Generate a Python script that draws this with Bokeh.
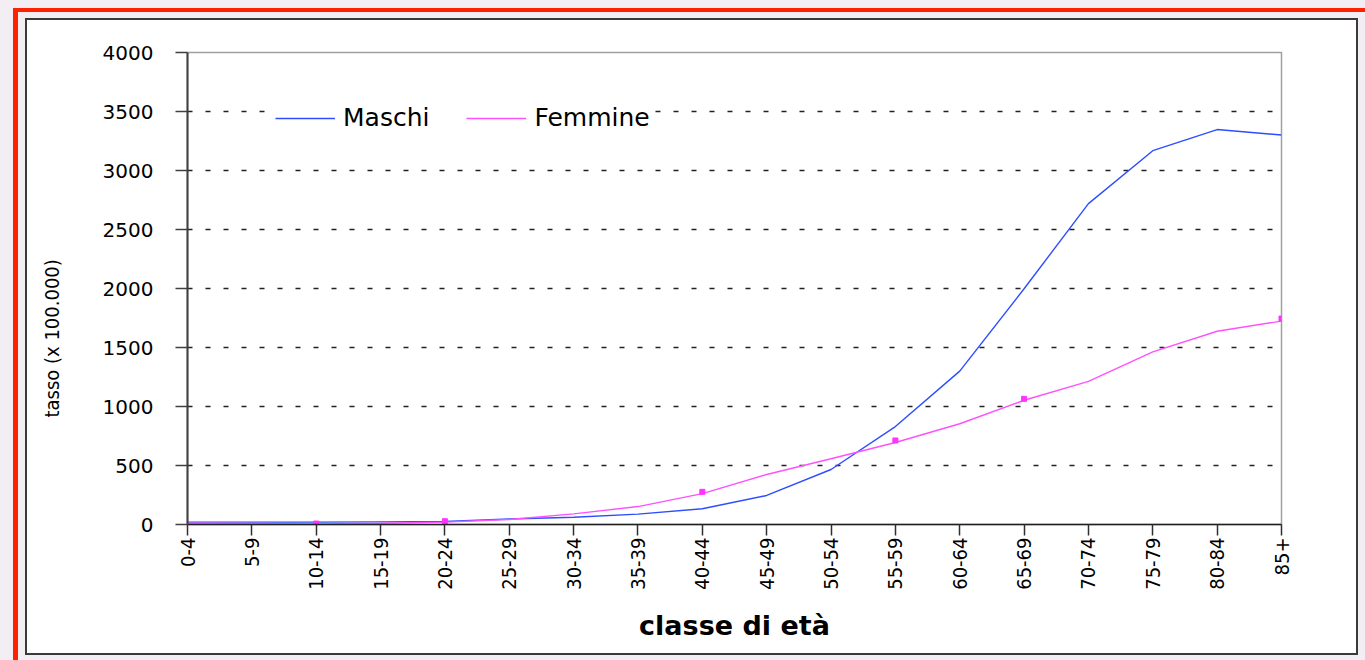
import math
from bokeh.plotting import figure
from bokeh.models import FixedTicker, Range1d, Title
from bokeh.embed import file_html
from bokeh.resources import INLINE

# ---- data -------------------------------------------------------------
categories = ["0-4", "5-9", "10-14", "15-19", "20-24", "25-29", "30-34", "35-39",
              "40-44", "45-49", "50-54", "55-59", "60-64", "65-69", "70-74",
              "75-79", "80-84", "85+"]
maschi = [20, 20, 20, 22, 25, 46, 62, 88, 133, 246, 466, 830, 1300, 1998, 2719, 3168, 3347, 3301]
femmine = [10, 8, 5, 10, 20, 42, 90, 152, 262, 424, 557, 695, 854, 1053, 1213, 1463, 1638, 1724]
femmine_pts_idx = [2, 4, 8, 11, 13, 17]
femmine_pts_val = [8, 28, 277, 712, 1065, 1745]
y_ticks = [0, 500, 1000, 1500, 2000, 2500, 3000, 3500, 4000]

# ---- figure -----------------------------------------------------------
W, H = 1365, 660
x_idx = list(range(len(categories)))

p = figure(width=W, height=H, output_backend="svg", toolbar_location=None,
           x_range=Range1d(0, len(categories) - 1), y_range=Range1d(0, 4000),
           min_border_left=187, min_border_right=W - 1281,
           min_border_top=52, min_border_bottom=H - 524)

# page decoration (red border, framed white panel) painted behind the canvas
def bar(color, x, y, w, h):
    return f"linear-gradient({color},{color}) {x}px {y}px / {w}px {h}px no-repeat"

layers = [
    bar("#3a3a3a", 25, 18, 1333, 2),     # panel frame top
    bar("#3a3a3a", 25, 653, 1333, 2),    # panel frame bottom
    bar("#3a3a3a", 25, 18, 2, 637),      # panel frame left
    bar("#3a3a3a", 1356, 18, 2, 637),    # panel frame right
    bar("#ffffff", 25, 18, 1333, 637),   # white panel
    bar("#FF2200", 13, 8, 1352, 4),      # red top
    bar("#FF2200", 13, 8, 5, 652),       # red left
    "#f3eef3",
]
p.styles = {"background": ", ".join(layers)}

p.border_fill_color = None
p.background_fill_color = "white"
p.outline_line_color = "#a0a0a0"
p.outline_line_width = 1.5

# lines
p.line(x_idx, maschi, line_color="#2D4DFF", line_width=1.4, legend_label="Maschi")
p.line(x_idx, femmine, line_color="#FF50FF", line_width=1.4, legend_label="Femmine")
p.scatter(femmine_pts_idx, femmine_pts_val, marker="square", size=5,
          fill_color="#FF33FF", line_color="#FF33FF")

# grid
p.xgrid.grid_line_color = None
p.ygrid.ticker = FixedTicker(ticks=y_ticks)
p.ygrid.grid_line_color = "#222222"
p.ygrid.grid_line_dash = "5 13"
p.ygrid.grid_line_width = 1.3

# y axis
p.yaxis.ticker = FixedTicker(ticks=y_ticks)
p.yaxis.axis_line_color = "#404040"
p.yaxis.axis_line_width = 2
p.yaxis.major_tick_line_color = "#404040"
p.yaxis.major_tick_line_width = 1.5
p.yaxis.major_tick_out = 12
p.yaxis.major_tick_in = 0
p.yaxis.minor_tick_line_color = None
p.yaxis.major_label_standoff = 22
p.yaxis.major_label_text_font = "DejaVu Sans"
p.yaxis.major_label_text_font_size = "20px"
p.yaxis.major_label_text_color = "black"

# x axis
p.xaxis.ticker = FixedTicker(ticks=x_idx)
p.xaxis.major_label_overrides = {i: c for i, c in enumerate(categories)}
p.xaxis.major_label_orientation = math.pi / 2
p.xaxis.axis_line_color = "#202020"
p.xaxis.axis_line_width = 1.5
p.xaxis.major_tick_line_color = "#303030"
p.xaxis.major_tick_line_width = 1.5
p.xaxis.major_tick_out = 11
p.xaxis.major_tick_in = 0
p.xaxis.minor_tick_line_color = None
p.xaxis.major_label_standoff = 2
p.xaxis.major_label_text_font = "DejaVu Sans Condensed"
p.xaxis.major_label_text_font_size = "20px"
p.xaxis.major_label_text_color = "black"
p.xaxis.axis_label = "classe di età"
p.xaxis.axis_label_standoff = 17
p.xaxis.axis_label_text_font = "DejaVu Sans"
p.xaxis.axis_label_text_font_style = "bold"
p.xaxis.axis_label_text_font_size = "27px"
p.xaxis.axis_label_text_color = "black"

# y axis title (left side panel)
ytitle = Title(text="tasso (x 100.000)", align="left", offset=107,
               text_font="DejaVu Sans Condensed", text_font_size="20px",
               text_font_style="normal", text_color="black", standoff=71)
p.add_layout(ytitle, "left")

# legend
lg = p.legend[0]
lg.location = (88, 392)
lg.orientation = "horizontal"
lg.border_line_color = None
lg.background_fill_color = "white"
lg.background_fill_alpha = 1
lg.padding = 10
lg.margin = 0
lg.spacing = 37
lg.glyph_width = 60
lg.glyph_height = 24
lg.label_height = 24
lg.label_standoff = 8
lg.label_text_font = "DejaVu Sans"
lg.label_text_font_size = "25px"
lg.label_text_color = "black"

open("out.html", "w").write(file_html(p, INLINE))
